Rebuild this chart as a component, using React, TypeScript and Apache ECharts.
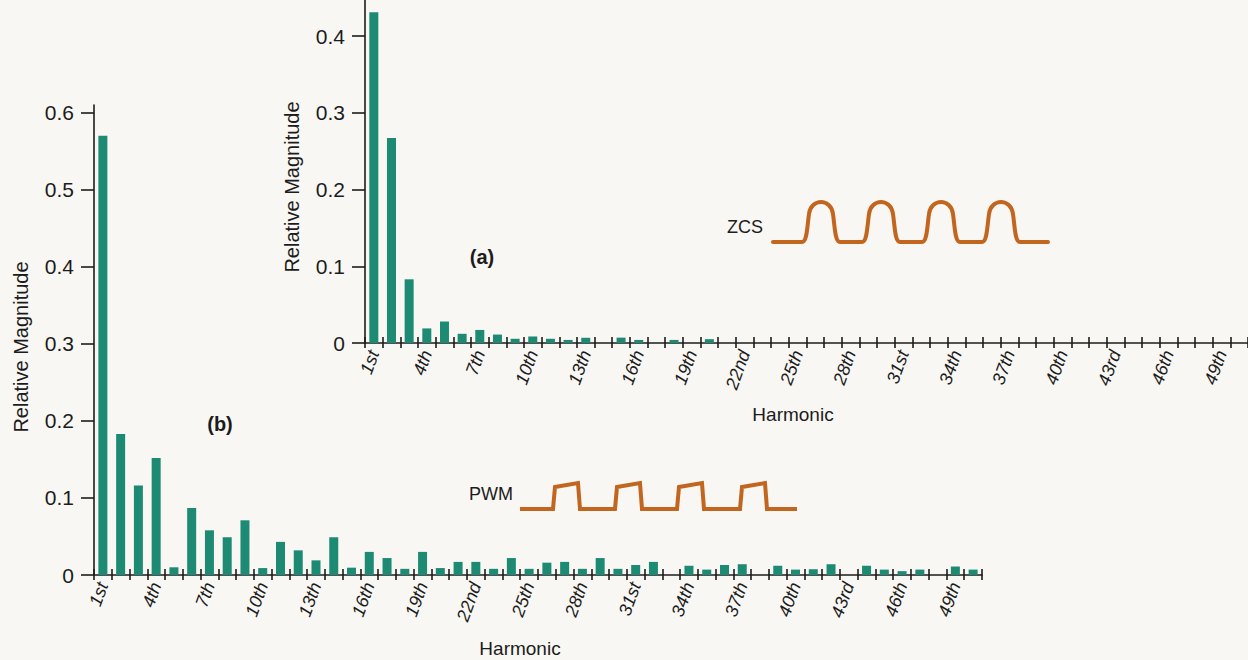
import React, { useEffect, useRef } from "react";
import * as echarts from "echarts";

const harmonics = [
  "1st", "2nd", "3rd", "4th", "5th", "6th", "7th", "8th", "9th", "10th",
  "11th", "12th", "13th", "14th", "15th", "16th", "17th", "18th", "19th", "20th",
  "21st", "22nd", "23rd", "24th", "25th", "26th", "27th", "28th", "29th", "30th",
  "31st", "32nd", "33rd", "34th", "35th", "36th", "37th", "38th", "39th", "40th",
  "41st", "42nd", "43rd", "44th", "45th", "46th", "47th", "48th", "49th", "50th",
];

// (a) ZCS spectrum
const zcsValues = [
  0.431, 0.267, 0.083, 0.019, 0.028, 0.012, 0.017, 0.011, 0.0055, 0.0085,
  0.0055, 0.004, 0.0068, 0, 0.007, 0.004, 0, 0.004, 0, 0.005,
  0, 0, 0, 0, 0, 0, 0, 0, 0, 0,
  0, 0, 0, 0, 0, 0, 0, 0, 0, 0,
  0, 0, 0, 0, 0, 0, 0, 0, 0, 0,
];

// (b) PWM spectrum
const pwmValues = [
  0.57, 0.183, 0.116, 0.152, 0.01, 0.087, 0.058, 0.049, 0.071, 0.009,
  0.043, 0.032, 0.019, 0.049, 0.0095, 0.03, 0.022, 0.008, 0.03, 0.009,
  0.017, 0.017, 0.008, 0.022, 0.008, 0.016, 0.017, 0.008, 0.022, 0.008,
  0.013, 0.017, 0, 0.012, 0.007, 0.013, 0.014, 0, 0.012, 0.007,
  0.0075, 0.014, 0, 0.012, 0.007, 0.005, 0.007, 0, 0.011, 0.007,
];

const zcsTicks = [0, 0.1, 0.2, 0.3, 0.4];
const pwmTicks = [0, 0.1, 0.2, 0.3, 0.4, 0.5, 0.6];

const BAR = "#1d8a74";
const INK = "#1c1c1c";
const WAVE = "#c2661f";
const FONT = "'Liberation Sans', Arial, sans-serif";

// decorative waveform icons
const zcsPulseStarts = [29, 89, 149, 209];
let zcsD = "M0 0";
zcsPulseStarts.forEach((o) => {
  zcsD += ` L${o} 0 C${o + 5} 0 ${o + 5} -14 ${o + 7} -28 C${o + 9} -44 ${o + 29} -44 ${o + 31} -28 C${o + 33} -14 ${o + 33} 0 ${o + 38} 0`;
});
zcsD += " L275 0";

const pwmPulseStarts = [33, 95, 157, 220];
let pwmD = "M0 0";
pwmPulseStarts.forEach((o) => {
  pwmD += ` L${o} 0 L${o + 2} -22 L${o + 25} -26 L${o + 27} 0`;
});
pwmD += " L277 0";

let registered = false;
function registerShapes() {
  if (registered) return;
  echarts.graphic.registerShape("zcsWave", echarts.graphic.extendPath(zcsD, {}));
  echarts.graphic.registerShape("pwmWave", echarts.graphic.extendPath(pwmD, {}));
  registered = true;
}

const fmt = (v: number) => (v === 0 ? "0" : String(v));

function buildOption(): any {
  const xCommon = (gridIndex: number) => ({
    type: "category",
    gridIndex,
    data: harmonics,
    boundaryGap: true,
    axisLine: { show: true, lineStyle: { color: INK, width: 1.6 } },
    axisTick: { show: true, interval: 0, length: 5, lineStyle: { color: INK, width: 1.6 } },
    axisLabel: {
      interval: 2,
      rotate: 70,
      margin: 8,
      fontSize: 18,
      fontStyle: "italic",
      fontFamily: FONT,
      color: INK,
    },
    splitLine: { show: false },
  });
  const xInside = (gridIndex: number) => ({
    type: "category",
    gridIndex,
    position: "bottom",
    data: harmonics,
    boundaryGap: true,
    axisLine: { show: false },
    axisTick: { show: true, inside: true, interval: 0, length: 6, lineStyle: { color: INK, width: 1.6 } },
    axisLabel: { show: false },
    splitLine: { show: false },
  });
  const yCommon = (gridIndex: number, max: number, ticks: number[]) => ({
    type: "value",
    gridIndex,
    min: 0,
    max,
    axisLine: { show: true, lineStyle: { color: INK, width: 1.6 } },
    axisTick: { show: true, length: 13, customValues: ticks, lineStyle: { color: INK, width: 1.6 } },
    axisLabel: {
      customValues: ticks,
      formatter: fmt,
      margin: 20,
      fontSize: 21,
      fontFamily: FONT,
      color: INK,
    },
    splitLine: { show: false },
  });

  return {
    animation: false,
    backgroundColor: "#f8f7f3",
    grid: [
      { left: 94, top: 105, bottom: 85, right: 266, containLabel: false },
      { left: 365, top: 0, bottom: 317, right: -5, containLabel: false },
    ],
    xAxis: [xCommon(0), xInside(0), xCommon(1), xInside(1)],
    yAxis: [yCommon(0, 0.61, pwmTicks), yCommon(1, 0.447, zcsTicks)],
    series: [
      {
        type: "bar",
        name: "PWM",
        xAxisIndex: 0,
        yAxisIndex: 0,
        data: pwmValues,
        barWidth: 9,
        itemStyle: { color: BAR },
      },
      {
        type: "bar",
        name: "ZCS",
        xAxisIndex: 2,
        yAxisIndex: 1,
        data: zcsValues,
        barWidth: 9,
        itemStyle: { color: BAR },
      },
    ],
    graphic: [
      {
        type: "text",
        x: 21,
        y: 347,
        rotation: Math.PI / 2,
        style: { text: "Relative Magnitude", fill: INK, font: `20px ${FONT}`, align: "center", verticalAlign: "middle" },
      },
      {
        type: "text",
        x: 292,
        y: 187,
        rotation: Math.PI / 2,
        style: { text: "Relative Magnitude", fill: INK, font: `20px ${FONT}`, align: "center", verticalAlign: "middle" },
      },
      {
        type: "text",
        x: 520,
        y: 648,
        style: { text: "Harmonic", fill: INK, font: `19px ${FONT}`, align: "center", verticalAlign: "middle" },
      },
      {
        type: "text",
        x: 793,
        y: 414,
        style: { text: "Harmonic", fill: INK, font: `19px ${FONT}`, align: "center", verticalAlign: "middle" },
      },
      {
        type: "text",
        x: 482,
        y: 257,
        style: { text: "(a)", fill: INK, font: `bold 20px ${FONT}`, align: "center", verticalAlign: "middle" },
      },
      {
        type: "text",
        x: 220,
        y: 424,
        style: { text: "(b)", fill: INK, font: `bold 20px ${FONT}`, align: "center", verticalAlign: "middle" },
      },
      {
        type: "text",
        x: 745,
        y: 227,
        style: { text: "ZCS", fill: INK, font: `18px ${FONT}`, align: "center", verticalAlign: "middle" },
      },
      {
        type: "text",
        x: 491,
        y: 494,
        style: { text: "PWM", fill: INK, font: `18px ${FONT}`, align: "center", verticalAlign: "middle" },
      },
      {
        type: "zcsWave",
        x: 773,
        y: 242,
        style: { stroke: WAVE, fill: "none", lineWidth: 4, lineJoin: "round", lineCap: "round" },
      },
      {
        type: "pwmWave",
        x: 520,
        y: 509,
        style: { stroke: WAVE, fill: "none", lineWidth: 4, lineJoin: "miter", lineCap: "butt" },
      },
    ],
  };
}

export default function App() {
  const ref = useRef<HTMLDivElement>(null);
  useEffect(() => {
    if (!ref.current) return;
    registerShapes();
    const chart = echarts.init(ref.current, undefined, { renderer: "svg" });
    chart.setOption(buildOption());
    return () => {
      chart.dispose();
    };
  }, []);
  return (
    <div
      ref={ref}
      style={{ position: "fixed", left: 0, top: 0, width: 1248, height: 660, overflow: "hidden" }}
    />
  );
}
